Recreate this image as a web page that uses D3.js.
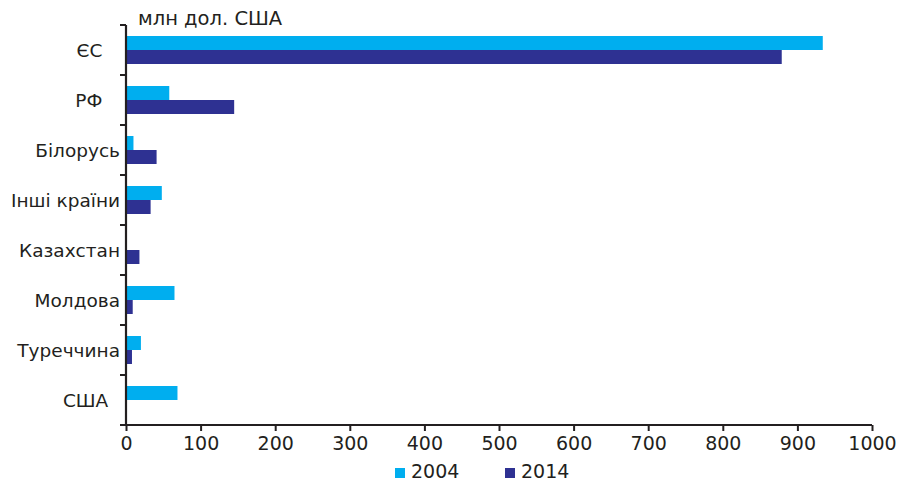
<!DOCTYPE html>
<html>
<head>
<meta charset="utf-8">
<script src="https://cdn.jsdelivr.net/npm/d3@7/dist/d3.min.js"></script>
<style>
  html, body { margin: 0; padding: 0; background: #fff; }
  svg { display: block; }
  text { font-family: "DejaVu Sans", Verdana, sans-serif; fill: #231f20; }
</style>
</head>
<body>
<svg id="chart" width="904" height="482"></svg>
<script>
// Exports by destination, million US dollars
const categories = ["ЄС\u00A0\u00A0\u00A0", "РФ\u00A0\u00A0\u00A0", "Білорусь", "Інші країни", "Казахстан", "Молдова", "Туреччина", "США\u00A0\u00A0"];
const values2004 = [934, 58, 10, 48, 1, 65, 20, 69];
const values2014 = [879, 145, 41, 33, 18, 9, 8, 0.5];
const seriesNames = ["2004", "2014"];
const seriesColors = ["#00aeef", "#2e3192"];
const xTicks = [0, 100, 200, 300, 400, 500, 600, 700, 800, 900, 1000];
const unitLabel = "млн дол. США";

const svg = d3.select("#chart");
const margin = { left: 126, right: 32, top: 25, bottom: 57 };
const W = 904, H = 482;
const innerW = W - margin.left - margin.right;
const innerH = H - margin.top - margin.bottom;

const g = svg.append("g").attr("transform", `translate(${margin.left},${margin.top})`);

const x = d3.scaleLinear().domain([0, 1000]).range([0, innerW]);
const y = d3.scaleBand().domain(categories).range([0, innerH]).paddingInner(0.44).paddingOuter(0.22);
const sub = d3.scaleBand().domain(seriesNames).range([0, y.bandwidth()]);

const series = [values2004, values2014];
series.forEach((vals, si) => {
  g.append("g").selectAll("rect")
    .data(categories.map((c, i) => ({ c, v: vals[i] })))
    .join("rect")
    .attr("x", 0)
    .attr("y", d => y(d.c) + sub(seriesNames[si]))
    .attr("width", d => x(d.v))
    .attr("height", sub.bandwidth())
    .attr("fill", seriesColors[si]);
});

// category axis: ticks on the band boundaries
const yAxisG = g.append("g");
yAxisG.append("line")
  .attr("x1", 0).attr("x2", 0).attr("y1", 0).attr("y2", innerH)
  .attr("stroke", "#231f20").attr("stroke-width", 2.2);
const step = innerH / categories.length;
yAxisG.selectAll("line.tk")
  .data(d3.range(categories.length + 1))
  .join("line").attr("class", "tk")
  .attr("x1", -6).attr("x2", 0)
  .attr("y1", i => i * step).attr("y2", i => i * step)
  .attr("stroke", "#231f20").attr("stroke-width", 2);
yAxisG.selectAll("text")
  .data(categories)
  .join("text")
  .attr("x", -6)
  .attr("y", d => y(d) - y.step() * y.paddingInner() / 2 + y.step() / 2)
  .attr("dy", "0.36em")
  .attr("text-anchor", "end")
  .attr("font-size", 18.5)
  .text(d => d);

// value axis
const xAxis = d3.axisBottom(x).tickValues(xTicks).tickSize(6).tickPadding(6).tickFormat(d3.format("d"));
const xAxisG = g.append("g").attr("transform", `translate(0,${innerH})`).call(xAxis);
xAxisG.select(".domain").attr("stroke", "#231f20").attr("stroke-width", 2.2).attr("d", `M0,0H${innerW}`);
xAxisG.selectAll(".tick line").attr("stroke", "#231f20").attr("stroke-width", 2);
xAxisG.selectAll(".tick text")
  .attr("font-size", 19)
  .attr("font-family", "'DejaVu Sans', Verdana, sans-serif")
  .attr("fill", "#231f20");

// unit label
svg.append("text")
  .attr("x", 138).attr("y", 25)
  .attr("font-size", 19.5)
  .text(unitLabel);

// legend
const legend = svg.append("g").attr("transform", "translate(395,478)");
const legendX = [0, 110];
seriesNames.forEach((s, i) => {
  const lg = legend.append("g").attr("transform", `translate(${legendX[i]},0)`);
  lg.append("rect").attr("x", 0).attr("y", -10).attr("width", 10).attr("height", 10).attr("fill", seriesColors[i]);
  lg.append("text").attr("x", 16).attr("y", 0)
    .attr("font-size", 19)
    .text(s);
});
</script>
</body>
</html>
